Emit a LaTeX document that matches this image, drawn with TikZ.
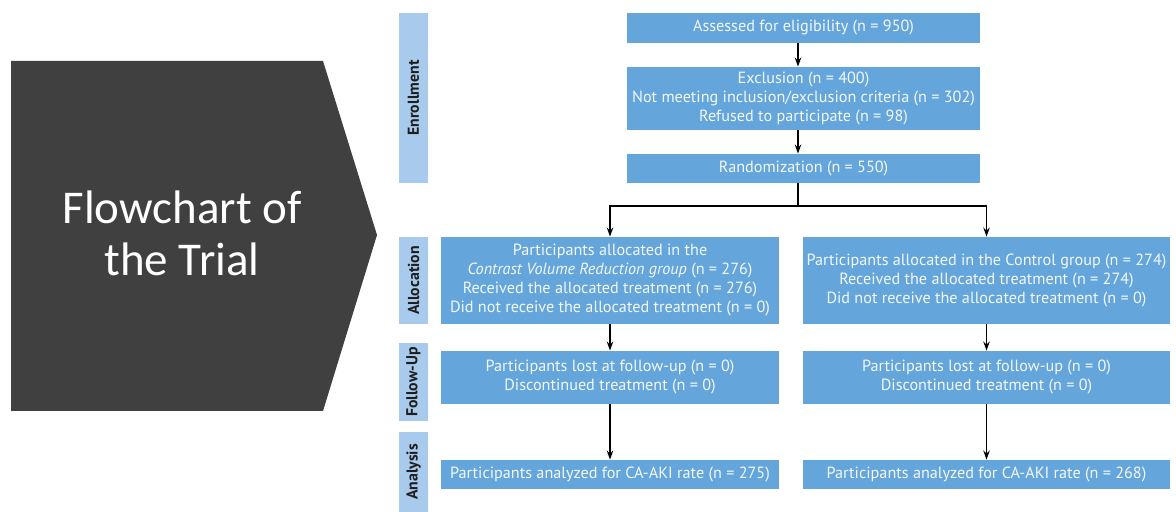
\documentclass[tikz,border=0pt]{standalone}
\usepackage{fontspec}
\setmainfont{PT Sans}
\newfontfamily\titlefont{Carlito}
\usetikzlibrary{arrows.meta,calc}
\definecolor{boxblue}{HTML}{64A6DB}
\definecolor{barblue}{HTML}{A8CAEC}
\definecolor{chevgray}{HTML}{404040}
\definecolor{labtext}{HTML}{1E1E1E}
\definecolor{boxtext}{HTML}{F4F8FC}
\begin{document}
\begin{tikzpicture}[x=0.5pt,y=-0.5pt,
  box/.style={fill=boxblue, draw=none, text=boxtext, font=\fontsize{8.1}{9.5}\selectfont, align=center, inner sep=0pt, anchor=center},
  phase/.style={fill=barblue, draw=none, text=labtext, font=\bfseries\fontsize{7.9}{9}\selectfont, rotate=90, inner sep=0pt, anchor=center, minimum height=14.5pt},
  arr/.style={draw=black, line width=0.7pt, -{Stealth[length=4.5pt,width=3.2pt]}},
  ln/.style={draw=black, line width=0.7pt}]
\useasboundingbox (0,0) rectangle (1176,512);
% chevron
\fill[chevgray] (11,61) -- (323,61) -- (377,235) -- (323,411) -- (11,411) -- cycle;
\node[text=white, font=\titlefont\fontsize{23.5}{26}\selectfont, align=center] (title) at (182,233) {Flowchart of\\the Trial};
% phase bars
\node[phase, minimum width=85pt] (enr) at (413.5,98) {Enrollment};
\node[phase, minimum width=43.5pt] (alc) at (413.5,280.5) {Allocation};
\node[phase, minimum width=39pt] (fol) at (413.5,382) {Follow-Up};
\node[phase, minimum width=40pt] (ana) at (413.5,472) {Analysis};
% boxes
\node[box, minimum width=176.5pt, minimum height=15pt] (assess) at (803.5,28) {Assessed for eligibility (n = 950)};
\node[box, minimum width=176.5pt, minimum height=31.5pt] (excl) at (803.5,98.5) {Exclusion (n = 400)\\Not meeting inclusion/exclusion criteria (n = 302)\\Refused to participate (n = 98)};
\node[box, minimum width=176.5pt, minimum height=14.5pt] (rand) at (803.5,168.5) {Randomization (n = 550)};
\node[box, minimum width=169pt, minimum height=43.5pt] (allocL) at (610,280.5) {Participants allocated in the\\\textit{Contrast Volume Reduction group} (n = 276)\\Received the allocated treatment (n = 276)\\Did not receive the allocated treatment (n = 0)};
\node[box, minimum width=183.5pt, minimum height=43.5pt] (allocR) at (986.5,280.5) {Participants allocated in the Control group (n = 274)\\Received the allocated treatment (n = 274)\\Did not receive the allocated treatment (n = 0)};
\node[box, minimum width=169pt, minimum height=26.5pt] (fuL) at (610,377.5) {Participants lost at follow-up (n = 0)\\Discontinued treatment (n = 0)};
\node[box, minimum width=183.5pt, minimum height=26.5pt] (fuR) at (986.5,377.5) {Participants lost at follow-up (n = 0)\\Discontinued treatment (n = 0)};
\node[box, minimum width=169pt, minimum height=14.5pt] (anL) at (610,474.5) {Participants analyzed for CA-AKI rate (n = 275)};
\node[box, minimum width=183.5pt, minimum height=14.5pt] (anR) at (986.5,474.5) {Participants analyzed for CA-AKI rate (n = 268)};
% connectors
\coordinate (sp) at (798,206);
\draw[arr] (assess.south -| sp) -- (excl.north -| sp);
\draw[arr] (excl.south -| sp) -- (rand.north -| sp);
\draw[ln] (rand.south -| sp) -- (sp);
\draw[arr] (sp) -| (allocL.north);
\draw[arr] (sp) -| (allocR.north);
\draw[arr] (allocL.south) -- (fuL.north);
\draw[arr] (allocR.south) -- (fuR.north);
\draw[arr] (fuL.south) -- (anL.north);
\draw[arr] (fuR.south) -- (anR.north);
\end{tikzpicture}
\end{document}
